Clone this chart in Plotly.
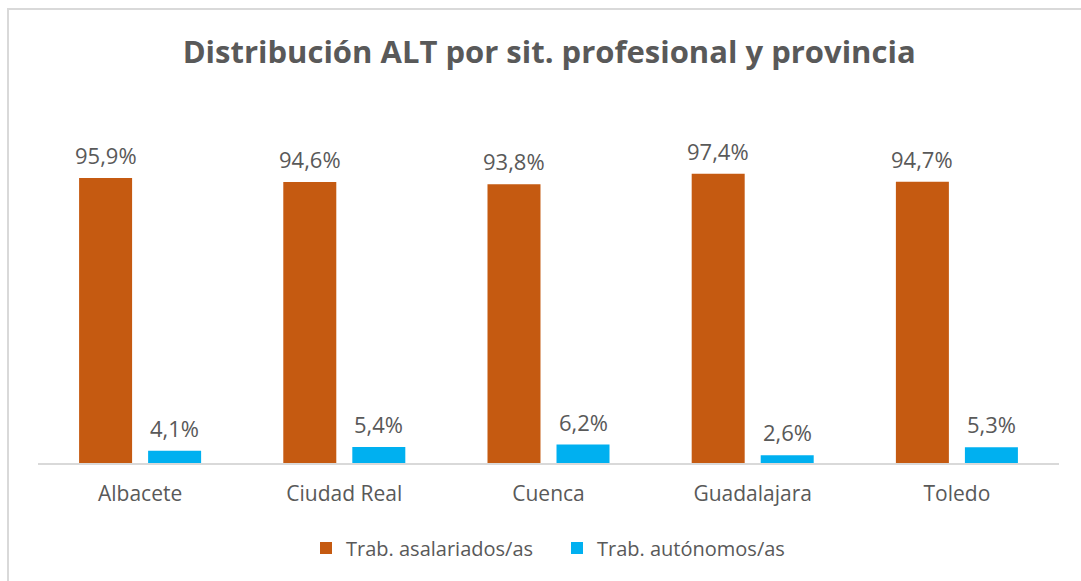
import plotly.graph_objects as go

categories = ["Albacete", "Ciudad Real", "Cuenca", "Guadalajara", "Toledo"]
asalariados = [95.9, 94.6, 93.8, 97.4, 94.7]
autonomos = [4.1, 5.4, 6.2, 2.6, 5.3]
series_names = ["Trab. asalariados/as", "Trab. autónomos/as"]
title_text = "Distribución ALT por sit. profesional y provincia"

FONT = "Open Sans"
GRAY = "#595959"

fig = go.Figure()
for name, vals, color in [(series_names[0], asalariados, "#C55A11"),
                          (series_names[1], autonomos, "#00B0F0")]:
    fig.add_trace(go.Bar(
        x=categories, y=vals, name=name, marker_color=color,
        marker_line_width=0,
    ))

annotations = []
for vals, shift in [(asalariados, -34.5), (autonomos, 34.5)]:
    for cat, v in zip(categories, vals):
        annotations.append(dict(
            x=cat, y=v, xref="x", yref="y", xshift=shift, yshift=23,
            text=f"{v:.1f}%".replace(".", ","), showarrow=False,
            xanchor="center", yanchor="middle",
            font=dict(family=FONT, size=22, color=GRAY)))

fig.update_layout(
    width=1081, height=581,
    margin=dict(l=38, r=22, t=130, b=118, autoexpand=False),
    paper_bgcolor="white", plot_bgcolor="white",
    separators=",.",
    barmode="group", bargap=0.324, bargroupgap=0.232,
    title=dict(text="<b>" + title_text + "</b>", x=0.508, xanchor="center",
               y=1 - 52 / 581, yanchor="middle",
               font=dict(family=FONT, size=31, color=GRAY)),
    xaxis=dict(showline=True, linecolor="#D9D9D9", linewidth=2,
               ticks="", ticklabelstandoff=11,
               tickfont=dict(family=FONT, size=21, color=GRAY)),
    yaxis=dict(range=[0, 112.1], visible=False, showgrid=False),
    showlegend=True,
    legend=dict(orientation="h", x=(318 - 38 - 12) / 1021, xanchor="left",
                y=(463 - 548) / 333, yanchor="middle",
                font=dict(family=FONT, size=20, color=GRAY),
                itemwidth=30, itemsizing="constant",
                entrywidth=206, entrywidthmode="pixels"),
    annotations=annotations,
    shapes=[dict(type="rect", xref="paper", yref="paper",
                 x0=(8 - 38) / 1021, x1=1.2, y0=-0.6, y1=(463 - 9) / 333,
                 line=dict(color="#D9D9D9", width=2), layer="below")],
)

fig.write_html("out.html", config={"displayModeBar": False},
               post_script="document.body.style.margin='0';document.body.style.overflow='hidden';")
